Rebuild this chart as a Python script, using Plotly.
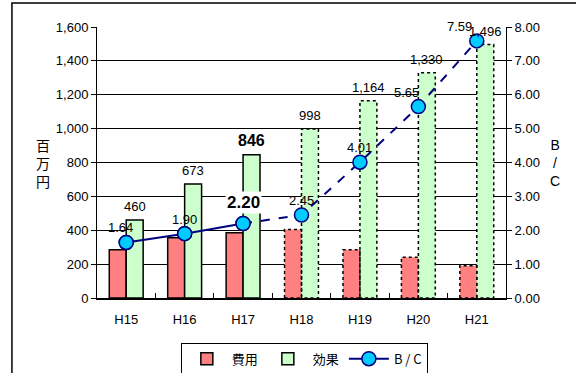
import plotly.graph_objects as go

# Fiscal years and series
years = ["H15", "H16", "H17", "H18", "H19", "H20", "H21"]
cost = [285, 355, 385, 405, 285, 240, 190]          # 費用 (百万円)
effect = [460, 673, 846, 998, 1164, 1330, 1496]     # 効果 (百万円)
bc = [1.64, 1.90, 2.20, 2.45, 4.01, 5.65, 7.59]     # B / C
n_actual = 3  # H15-H17 are results, later years are projections

left_ticks = [0, 200, 400, 600, 800, 1000, 1200, 1400, 1600]
right_ticks = [0, 1, 2, 3, 4, 5, 6, 7, 8]

FONT = "Liberation Sans, Arial, Noto Sans CJK JP"
JP = "Noto Sans CJK JP, Liberation Sans"
BW = 0.29  # bar width in category units

xs = list(range(len(years)))
fig = go.Figure()

line_w = [1.5 if i < n_actual else 0 for i in xs]
fig.add_trace(go.Bar(
    x=xs, y=cost, name="費用", width=BW, offset=-BW,
    marker=dict(color="#FF8080", line=dict(color="black", width=line_w)),
))
fig.add_trace(go.Bar(
    x=xs, y=effect, name="効果", width=BW, offset=0,
    marker=dict(color="#CCFFCC", line=dict(color="black", width=line_w)),
))

# dotted outlines for the projected bars
ox, oy = [], []
for i in xs[n_actual:]:
    for x0, x1, h in ((i - BW, i, cost[i]), (i, i + BW, effect[i])):
        ox += [x0, x0, x1, x1, x0, None]
        oy += [0, h, h, 0, 0, None]
fig.add_trace(go.Scatter(
    x=ox, y=oy, mode="lines", line=dict(color="black", width=1.5, dash="dot"),
    showlegend=False, hoverinfo="skip",
))

# B/C line: solid for results, dashed for projections
marker = dict(size=14, color="#00CCFF", line=dict(color="#000080", width=1.5))
fig.add_trace(go.Scatter(
    x=xs[n_actual - 1:], y=bc[n_actual - 1:], yaxis="y2", mode="lines",
    line=dict(color="#000080", width=2, dash="dash"),
    showlegend=False, hoverinfo="skip",
))
fig.add_trace(go.Scatter(
    x=xs, y=bc, yaxis="y2", mode="markers", marker=marker,
    showlegend=False,
))
fig.add_trace(go.Scatter(
    x=xs[:n_actual], y=bc[:n_actual], yaxis="y2", mode="lines+markers",
    name="B / C", line=dict(color="#000080", width=2), marker=marker,
))

# value labels
annotations = []
for i, v in enumerate(effect):
    bold = i == n_actual - 1
    annotations.append(dict(
        x=i + BW / 2, y=v, xref="x", yref="y", text=f"<b>{v:,}</b>" if bold else f"{v:,}",
        showarrow=False, yanchor="bottom", yshift=4,
        font=dict(size=16 if bold else 13, color="black", family=FONT),
    ))
bc_dx = [-6, 0, 0, 0, 0, -12, -17]
for i, v in enumerate(bc):
    bold = i == n_actual - 1
    annotations.append(dict(
        x=i, y=v, xref="x", yref="y2", text=f"<b>{v:.2f}</b>" if bold else f"{v:.2f}",
        showarrow=False, yanchor="bottom", xshift=bc_dx[i], yshift=9 if bold else 5,
        bgcolor="white" if bold else None,
        font=dict(size=17 if bold else 13, color="black", family=FONT),
    ))
annotations.append(dict(
    x=-0.155, y=0.5, xref="paper", yref="paper", text="百<br>万<br>円",
    showarrow=False, font=dict(size=14, family=JP, color="black"),
))
annotations.append(dict(
    x=1.137, y=0.5, xref="paper", yref="paper", text="B<br>/<br>C",
    showarrow=False, font=dict(size=14, family=FONT, color="black"),
))

fig.update_layout(
    width=576, height=373,
    margin=dict(l=97, r=70, t=27, b=75, autoexpand=False),
    paper_bgcolor="white", plot_bgcolor="white",
    font=dict(family=FONT, size=13, color="black"),
    barmode="overlay",
    showlegend=True,
    legend=dict(
        orientation="h", x=0.205, y=-0.165, xanchor="left", yanchor="top",
        bordercolor="black", borderwidth=1, bgcolor="white",
        font=dict(size=13, family=JP), itemwidth=40, tracegroupgap=0,
    ),
    xaxis=dict(
        range=[-0.5, len(years) - 0.5], tickvals=xs, ticktext=years,
        showline=True, linecolor="black", linewidth=2, ticks="",
        ticklabelstandoff=8,
        showgrid=False, zeroline=False,
        minor=dict(tickvals=[i + 0.5 for i in xs[:-1]], ticks="inside",
                   ticklen=5, tickcolor="black", showgrid=False),
    ),
    yaxis=dict(
        range=[0, 1600], tickvals=left_ticks, tickformat=",",
        showline=True, linecolor="black", linewidth=1,
        ticks="outside", ticklen=5, tickcolor="black",
        showgrid=True, gridcolor="black", gridwidth=1, zeroline=False,
    ),
    yaxis2=dict(
        range=[0, 8], tickvals=right_ticks, tickformat=".2f",
        overlaying="y", side="right",
        showline=True, linecolor="black", linewidth=1,
        ticks="outside", ticklen=5, tickcolor="black",
        showgrid=False, zeroline=False,
    ),
    annotations=annotations,
    shapes=[dict(
        type="rect", xref="paper", yref="paper",
        x0=-0.208, x1=1.2, y0=-0.4, y1=1.0886,
        line=dict(color="black", width=1.5), layer="below",
    )],
)

fig.write_html("out.html")
